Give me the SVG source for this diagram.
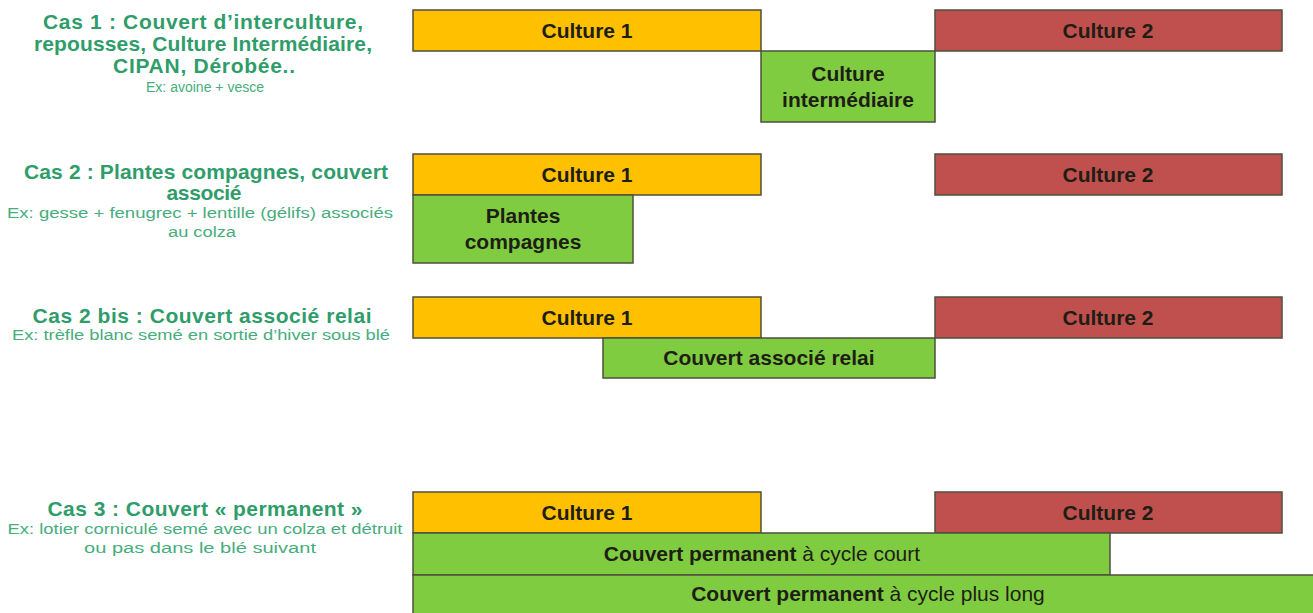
<svg xmlns="http://www.w3.org/2000/svg" width="1313" height="613" viewBox="0 0 1313 613">
<style>
.bg{fill:#ffffff}
.box{stroke:#4f4f3c;stroke-width:1.5}
.y{fill:#FFC000}
.r{fill:#C0504D}
.g{fill:#80CC40}
.lbl{font-family:"Liberation Sans",Arial,sans-serif;font-weight:bold;font-size:21px;fill:#1e1e16;text-anchor:middle}
.reg{font-weight:normal}
.t{font-family:"Liberation Sans",Arial,sans-serif;font-weight:bold;font-size:21px;fill:#2f9d6a;text-anchor:middle}
.ex{font-family:"Liberation Sans",Arial,sans-serif;font-size:14px;fill:#46ad7c;text-anchor:middle}
</style>
<rect class="bg" x="0" y="0" width="1313" height="613"/>

<g id="cas1-label">
<text class="t" x="203" y="29" textLength="320">Cas 1 : Couvert d’interculture,</text>
<text class="t" x="203" y="51" textLength="338">repousses, Culture Intermédiaire,</text>
<text class="t" x="204" y="73" textLength="182">CIPAN, Dérobée..</text>
<text class="ex" x="205" y="92" textLength="118" lengthAdjust="spacingAndGlyphs">Ex: avoine + vesce</text>
</g>
<g id="cas1-culture1"><rect class="box y" x="413" y="10" width="348" height="41"/><text class="lbl" x="587" y="38">Culture 1</text></g>
<g id="cas1-culture2"><rect class="box r" x="935" y="10" width="347" height="41"/><text class="lbl" x="1108" y="38">Culture 2</text></g>
<g id="cas1-ci"><rect class="box g" x="761" y="51" width="174" height="71"/><text class="lbl" x="848" y="81">Culture</text><text class="lbl" x="848" y="107">intermédiaire</text></g>

<g id="cas2-label">
<text class="t" x="206" y="179" textLength="364">Cas 2 : Plantes compagnes, couvert</text>
<text class="t" x="204" y="200" textLength="75">associé</text>
<text class="ex" x="200" y="218" textLength="386" lengthAdjust="spacingAndGlyphs">Ex: gesse + fenugrec + lentille  (gélifs) associés</text>
<text class="ex" x="202" y="237" textLength="68" lengthAdjust="spacingAndGlyphs">au colza</text>
</g>
<g id="cas2-culture1"><rect class="box y" x="413" y="154" width="348" height="41"/><text class="lbl" x="587" y="182">Culture 1</text></g>
<g id="cas2-culture2"><rect class="box r" x="935" y="154" width="347" height="41"/><text class="lbl" x="1108" y="182">Culture 2</text></g>
<g id="cas2-pc"><rect class="box g" x="413" y="195" width="220" height="68"/><text class="lbl" x="523" y="223">Plantes</text><text class="lbl" x="523" y="249">compagnes</text></g>

<g id="cas2bis-label">
<text class="t" x="202" y="323" textLength="339">Cas 2 bis : Couvert associé relai</text>
<text class="ex" x="201" y="340" textLength="378" lengthAdjust="spacingAndGlyphs">Ex: trèfle blanc semé en sortie d’hiver sous blé</text>
</g>
<g id="cas2bis-culture1"><rect class="box y" x="413" y="297" width="348" height="41"/><text class="lbl" x="587" y="325">Culture 1</text></g>
<g id="cas2bis-culture2"><rect class="box r" x="935" y="297" width="347" height="41"/><text class="lbl" x="1108" y="325">Culture 2</text></g>
<g id="cas2bis-relai"><rect class="box g" x="603" y="338" width="332" height="40"/><text class="lbl" x="769" y="365">Couvert associé relai</text></g>

<g id="cas3-label">
<text class="t" x="205" y="516" textLength="315">Cas 3 : Couvert « permanent »</text>
<text class="ex" x="205" y="534" textLength="395" lengthAdjust="spacingAndGlyphs">Ex: lotier corniculé semé avec un colza et détruit</text>
<text class="ex" x="200" y="553" textLength="232" lengthAdjust="spacingAndGlyphs">ou pas dans le blé suivant</text>
</g>
<g id="cas3-culture1"><rect class="box y" x="413" y="492" width="348" height="41"/><text class="lbl" x="587" y="520">Culture 1</text></g>
<g id="cas3-culture2"><rect class="box r" x="935" y="492" width="347" height="41"/><text class="lbl" x="1108" y="520">Culture 2</text></g>
<g id="cas3-court"><rect class="box g" x="413" y="533" width="697" height="42"/><text class="lbl" x="762" y="561">Couvert permanent <tspan class="reg">à cycle court</tspan></text></g>
<g id="cas3-long"><rect class="box g" x="413" y="575" width="905" height="45"/><text class="lbl" x="868" y="601">Couvert permanent <tspan class="reg">à cycle plus long</tspan></text></g>

<g id="connectors"></g>
</svg>
